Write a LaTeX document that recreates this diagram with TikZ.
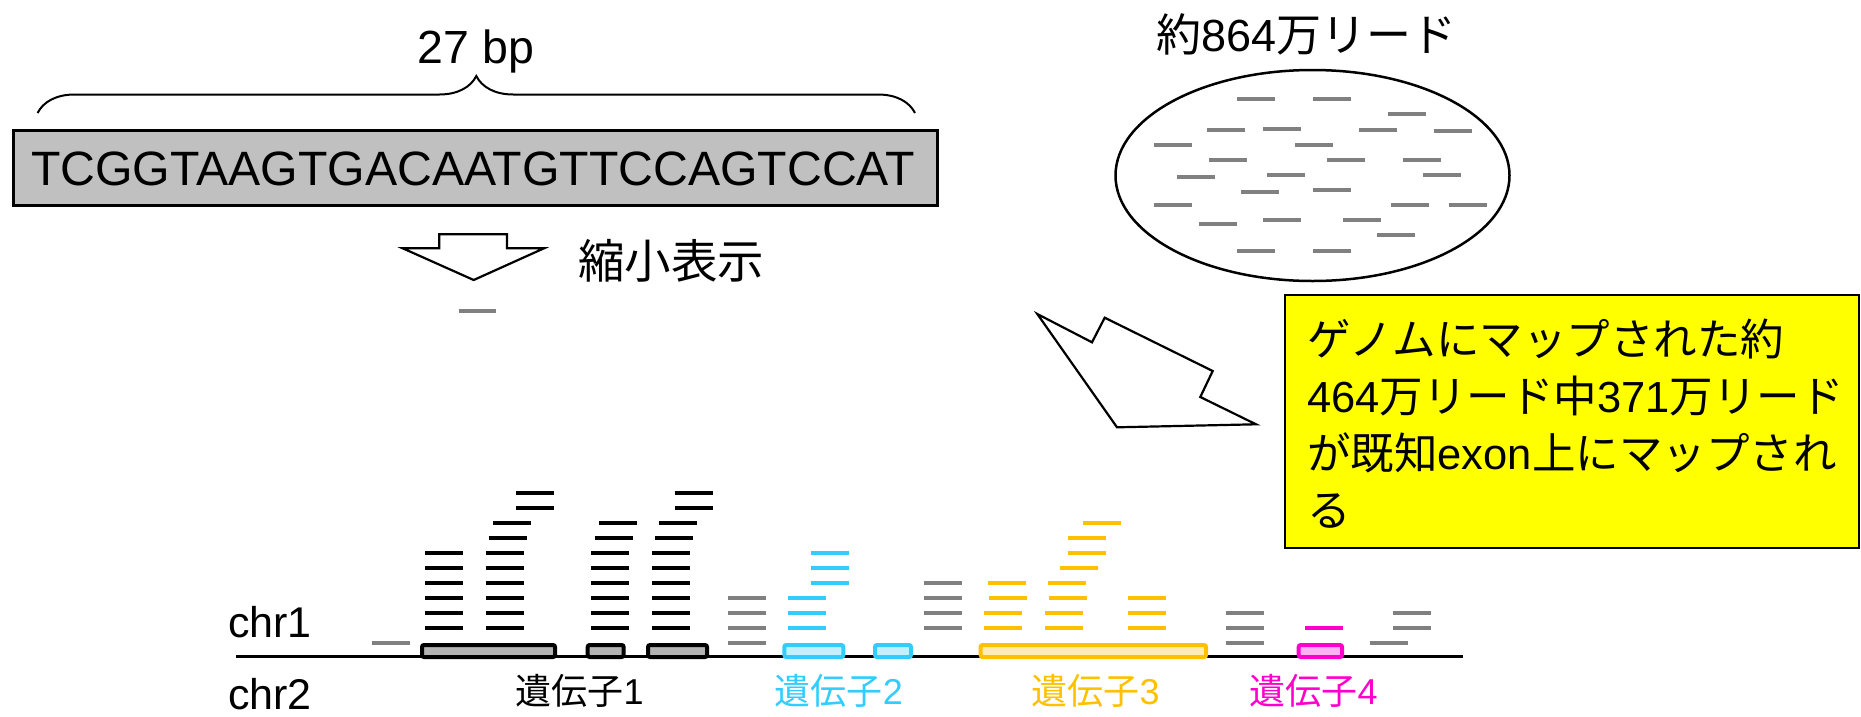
\documentclass[tikz,border=0pt]{standalone}
\usepackage{fontspec}
\setmainfont{Liberation Sans}
\newfontfamily\jpf{Noto Sans CJK JP}
\usetikzlibrary{shapes.geometric,decorations.pathreplacing}
\definecolor{readgray}{HTML}{808080}
\definecolor{seqgray}{HTML}{C0C0C0}
\definecolor{exgray}{HTML}{B3B3B3}
\definecolor{gblue}{HTML}{33CCFF}
\definecolor{gorange}{HTML}{FFC000}
\definecolor{gmag}{HTML}{FF00CC}
\definecolor{msgyellow}{HTML}{FFFF00}
\newcommand\readbar[3]{\draw[#1] (#2,{643.3-15*(#3)}) -- ++(38,0);}
\newcommand\poolread[2]{\draw[rdpool] (#1,#2) -- ++(38,0);}
\begin{document}
\begin{tikzpicture}[x=1pt,y=-1pt,
  rdbk/.style={line width=4pt,draw=black},
  rdgr/.style={line width=4pt,draw=readgray},
  rdbl/.style={line width=4pt,draw=gblue},
  rdor/.style={line width=4pt,draw=gorange},
  rdmg/.style={line width=4pt,draw=gmag},
  rdpool/.style={line width=4pt,draw=readgray},
  exonbox/.style={rectangle,inner sep=0pt,line width=4pt,rounded corners=2pt,minimum height=12pt},
  lbl/.style={inner sep=0pt,font=\fontsize{36}{40}\selectfont},
  blockarrow/.style={draw=black,line width=2.2pt,fill=white,line join=miter}]
\useasboundingbox (0,0) rectangle (1861,716);

% --- top left: sequence ---
\node[anchor=base,inner sep=0pt,font=\fontsize{46.5}{52}\selectfont] (bp) at (475.8,63.3) {27 bp};
\coordinate (brl) at (37.6,113);
\coordinate (brr) at (915,113);
\draw[decorate,decoration={brace,amplitude=37pt},line width=2pt] (brl) -- (brr);
\node[rectangle,draw=black,line width=3pt,fill=seqgray,inner sep=0pt,minimum width=924pt,minimum height=74.7pt] (seqbox) at (475.5,167.85) {};
\node[anchor=base west,inner sep=0pt,font=\fontsize{48.2}{55}\selectfont] (seq) at (31,185.5) {TCGGTAAGTGACAATGTTCCAGTCCAT};

% down arrow
\draw[blockarrow] (439.3,234.3) -- (507,234.3) -- (507,248.3) -- (544,248.3) -- (473.7,280) -- (402.7,248.3) -- (439.3,248.3) -- cycle;
\node[anchor=base west,inner sep=0pt,font=\fontsize{46.5}{50}\selectfont\jpf] (shrink) at (578,278.5) {縮小表示};
\draw[rdgr] (458.7,310.7) -- ++(37.5,0);

% --- read pool ---
\node[anchor=base,inner sep=0pt,font=\fontsize{45}{50}\selectfont] (pooltitle) at (1306.5,51) {{\jpf 約}864{\jpf 万リード}};
\node[ellipse,draw=black,line width=2.5pt,inner sep=0pt,minimum width=394pt,minimum height=211pt] (pool) at (1312.5,175.5) {};
\poolread{1237}{99.3}
\poolread{1312.7}{99.3}
\poolread{1388.3}{114.3}
\poolread{1206.7}{129.7}
\poolread{1263.3}{129}
\poolread{1359.3}{129.7}
\poolread{1433.7}{131.3}
\poolread{1154}{144.7}
\poolread{1295.3}{144.7}
\poolread{1208.7}{159.7}
\poolread{1327.3}{159.7}
\poolread{1403.3}{159.7}
\poolread{1176.7}{176.7}
\poolread{1267.3}{175}
\poolread{1423.3}{175}
\poolread{1240.7}{192}
\poolread{1312.7}{190}
\poolread{1154}{205.3}
\poolread{1391.3}{205.3}
\poolread{1448.7}{205.3}
\poolread{1199.3}{223.7}
\poolread{1263.3}{220.3}
\poolread{1343}{220.3}
\poolread{1376.7}{235.3}
\poolread{1237}{250.7}
\poolread{1312.7}{250.7}

% big arrow
\draw[blockarrow] (1037.3,314) -- (1092,342.3) -- (1104.7,317.7) -- (1212.7,371) -- (1200.3,397) -- (1256,424.3) -- (1117,427.3) -- cycle;

% message box
\node[rectangle,draw=black,line width=2.5pt,fill=msgyellow,inner sep=0pt,minimum width=574pt,minimum height=253pt] (msg) at (1572,421.5) {};
\begin{scope}[every node/.style={anchor=base west,inner sep=0pt,font=\fontsize{43.5}{57}\selectfont}]
\node (msg1) at (1307,355) {{\jpf ゲノムにマップされた約}};
\node (msg2) at (1307,412) {464{\jpf 万リード中}371{\jpf 万リード}};
\node (msg3) at (1307,469) {{\jpf が既知}exon{\jpf 上にマップされ}};
\node (msg4) at (1307,526) {{\jpf る}};
\end{scope}

% --- genome track ---
\node[anchor=base west,inner sep=0pt,font=\fontsize{43}{50}\selectfont] (chr1) at (228,637) {chr1};
\node[anchor=base west,inner sep=0pt,font=\fontsize{43}{50}\selectfont] (chr2) at (228,709) {chr2};
\coordinate (chrs) at (236,656);
\coordinate (chre) at (1463.3,656);
\draw[line width=3pt] (chrs) -- (chre);

\node[exonbox,draw=black,fill=exgray,minimum width=133pt] (g1a) at (488.5,651) {};
\node[exonbox,draw=black,fill=exgray,minimum width=36pt] (g1b) at (605.7,651) {};
\node[exonbox,draw=black,fill=exgray,minimum width=59pt] (g1c) at (677.5,651) {};
\node[exonbox,draw=gblue,fill=gblue,fill opacity=0.3,minimum width=59pt] (g2a) at (813.8,651) {};
\node[exonbox,draw=gblue,fill=gblue,fill opacity=0.3,minimum width=36pt] (g2b) at (893,651) {};
\node[exonbox,draw=gorange,fill=gorange,fill opacity=0.3,minimum width=225.3pt] (g3a) at (1093.35,651) {};
\node[exonbox,draw=gmag,fill=gmag,fill opacity=0.3,minimum width=43.3pt] (g4a) at (1320.35,651) {};

\node[lbl,anchor=base] (lab1) at (579.6,704) {{\jpf 遺伝子}1};
\node[lbl,anchor=base,text=gblue] (lab2) at (839,704) {{\jpf 遺伝子}2};
\node[lbl,anchor=base,text=gorange] (lab3) at (1095.5,704) {{\jpf 遺伝子}3};
\node[lbl,anchor=base,text=gmag] (lab4) at (1313.5,704) {{\jpf 遺伝子}4};

% reads
\readbar{rdgr}{372}{0}
\foreach \r in {1,...,6} {\readbar{rdbk}{425}{\r}\readbar{rdbk}{485.7}{\r}\readbar{rdbk}{591.3}{\r}\readbar{rdbk}{652}{\r}}
\readbar{rdbk}{488.7}{7}
\readbar{rdbk}{493}{8}
\readbar{rdbk}{516}{9}
\readbar{rdbk}{516}{10}
\readbar{rdbk}{594.7}{7}
\readbar{rdbk}{599}{8}
\readbar{rdbk}{655}{7}
\readbar{rdbk}{659.3}{8}
\readbar{rdbk}{674.7}{9}
\readbar{rdbk}{674.7}{10}
\foreach \r in {0,...,3} {\readbar{rdgr}{727.7}{\r}}
\foreach \r in {1,2,3} {\readbar{rdbl}{788}{\r}}
\foreach \r in {4,5,6} {\readbar{rdbl}{810.7}{\r}}
\foreach \r in {1,...,4} {\readbar{rdgr}{924}{\r}}
\readbar{rdor}{984.3}{1}
\readbar{rdor}{984.3}{2}
\readbar{rdor}{989}{3}
\readbar{rdor}{987.7}{4}
\readbar{rdor}{1045}{1}
\readbar{rdor}{1045}{2}
\readbar{rdor}{1049.3}{3}
\readbar{rdor}{1048}{4}
\readbar{rdor}{1060}{5}
\readbar{rdor}{1067.7}{6}
\readbar{rdor}{1067.7}{7}
\readbar{rdor}{1083}{8}
\foreach \r in {1,2,3} {\readbar{rdor}{1127.7}{\r}}
\foreach \r in {0,1,2} {\readbar{rdgr}{1226.3}{\r}}
\readbar{rdmg}{1305.3}{1}
\readbar{rdgr}{1370}{0}
\readbar{rdgr}{1393}{1}
\readbar{rdgr}{1393}{2}
\end{tikzpicture}
\end{document}
